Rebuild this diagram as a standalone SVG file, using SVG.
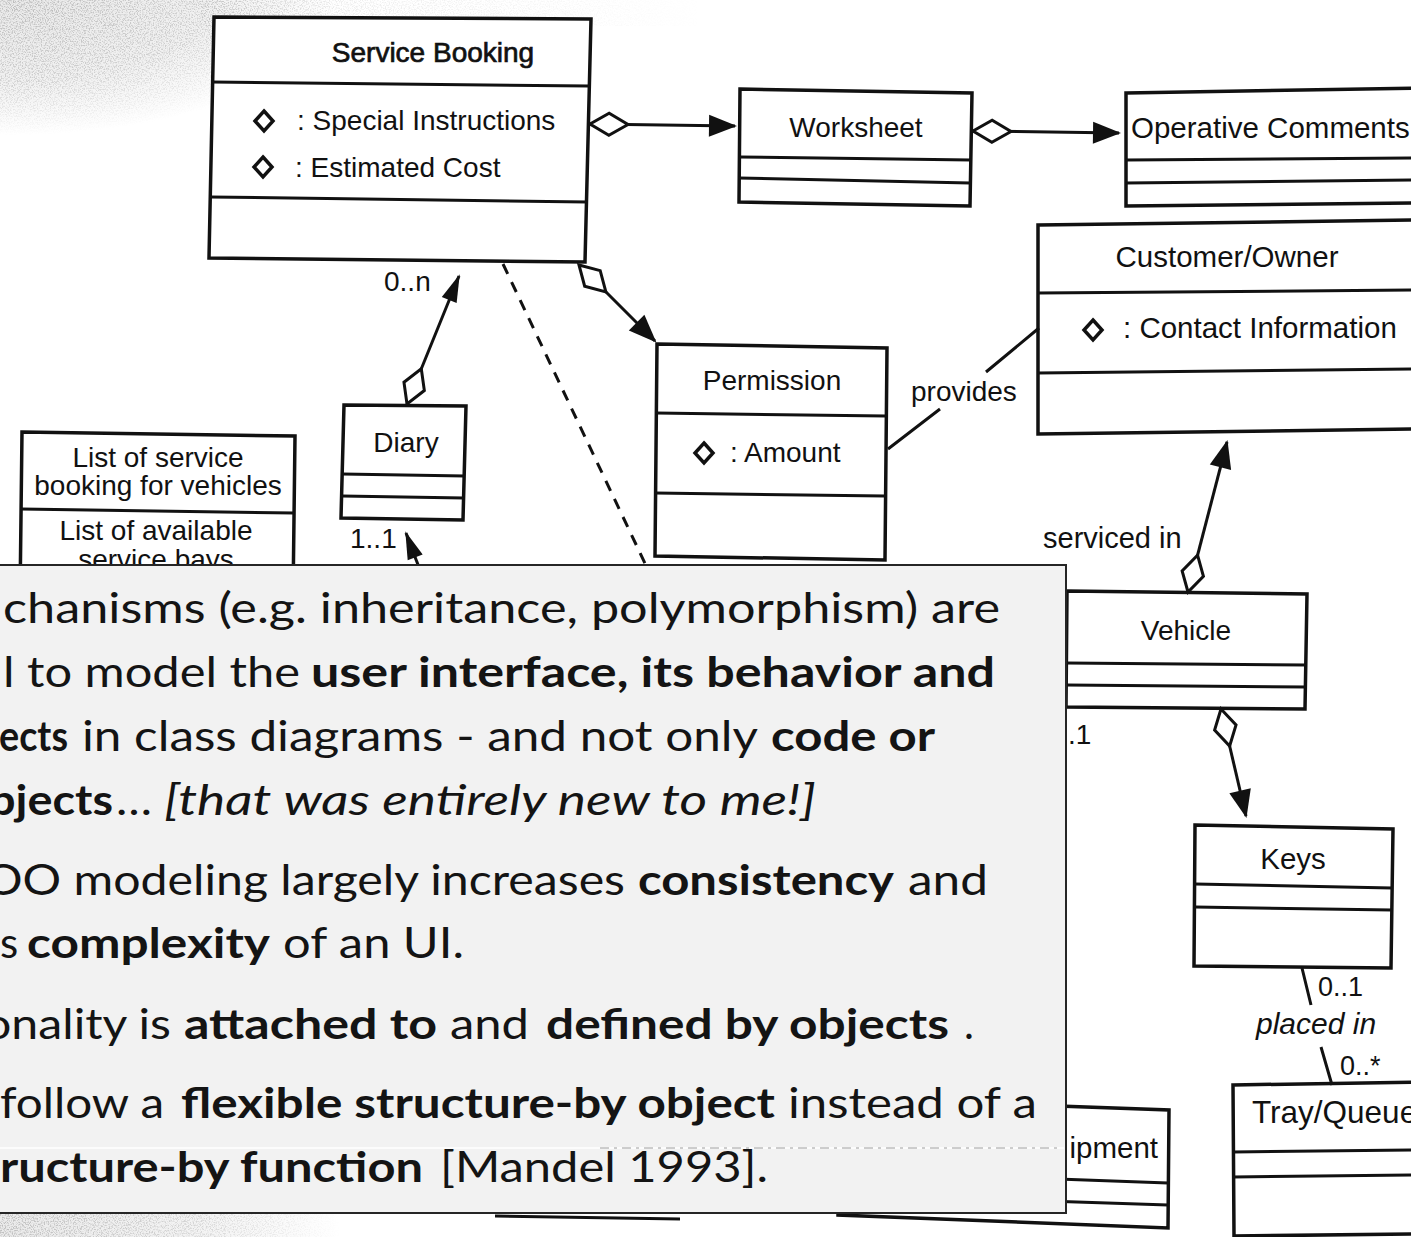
<svg xmlns="http://www.w3.org/2000/svg" xmlns:xlink="http://www.w3.org/1999/xlink" width="1411" height="1237" viewBox="0 0 1411 1237">
  <style>
    .box { fill: #fff; stroke: #111; stroke-width: 3.5; stroke-linejoin: miter; }
    .sep { fill: none; stroke: #111; stroke-width: 3; }
    .t { font-family: "Liberation Sans", Arial, Helvetica, sans-serif; font-size: 28px; fill: #111; }
    .tr { font-size: 29.5px; }
    .mid { text-anchor: middle; }
    .end { text-anchor: end; }
    .it { font-style: italic; }
    .assoc { fill: none; stroke: #111; stroke-width: 3; }
    .dashed { stroke-dasharray: 11 9; }
    .note { fill: #f2f2f2; stroke: #262626; stroke-width: 2; }
    .n { font-family: Lato, "Open Sans", "Noto Sans", sans-serif; font-size: 42px; fill: #141414; }
    .b { font-weight: 700; }
    .i { font-style: italic; }
  </style>
  <defs>
    <!-- aggregation diamond at the whole end -->
    <marker id="diamond" markerUnits="userSpaceOnUse" markerWidth="44" markerHeight="28" viewBox="-3 -14 44 28" refX="0" refY="0" orient="auto" overflow="visible">
      <path d="M0,0 L19,-11 L38,0 L19,11 Z" fill="#fff" stroke="#111" stroke-width="3"/>
    </marker>
    <!-- navigability arrowheads -->
    <marker id="arrow" markerUnits="userSpaceOnUse" markerWidth="30" markerHeight="26" viewBox="0 -13 30 26" refX="26" refY="0" orient="auto" overflow="visible">
      <path d="M0,-11 L28,0 L0,11 Z" fill="#111"/>
    </marker>
    <marker id="arrowN" markerUnits="userSpaceOnUse" markerWidth="30" markerHeight="20" viewBox="0 -10 30 20" refX="26" refY="0" orient="auto" overflow="visible">
      <path d="M0,-8 L28,0 L0,8 Z" fill="#111"/>
    </marker>
    <!-- attribute bullet -->
    <path id="bullet" d="M0,-10 L9,0 L0,10 L-9,0 Z" fill="#fff" stroke="#111" stroke-width="3.5"/>
    <!-- halftone paper grain -->
    <filter id="grain" filterUnits="userSpaceOnUse" x="0" y="0" width="1411" height="1237">
      <feTurbulence type="fractalNoise" baseFrequency="0.75" numOctaves="2" seed="7" result="noise"/>
      <feColorMatrix in="noise" type="matrix" values="0 0 0 0 0.45  0 0 0 0 0.45  0 0 0 0 0.45  4 0 0 0 -1.8" result="dots"/>
      <feComposite in="dots" in2="SourceGraphic" operator="in"/>
    </filter>
    <radialGradient id="shadeTL" gradientUnits="userSpaceOnUse" cx="0" cy="0" r="300" gradientTransform="translate(10,0) scale(1.1,0.45)">
      <stop offset="0" stop-color="#000" stop-opacity="0.85"/>
      <stop offset="0.6" stop-color="#000" stop-opacity="0.55"/>
      <stop offset="1" stop-color="#000" stop-opacity="0"/>
    </radialGradient>
    <linearGradient id="shadeTop" x1="0" y1="0" x2="1" y2="0">
      <stop offset="0" stop-color="#000" stop-opacity="0.35"/>
      <stop offset="1" stop-color="#000" stop-opacity="0"/>
    </linearGradient>
    <linearGradient id="shadeBL" x1="0" y1="0" x2="1" y2="0">
      <stop offset="0" stop-color="#000" stop-opacity="0.8"/>
      <stop offset="0.6" stop-color="#000" stop-opacity="0.45"/>
      <stop offset="1" stop-color="#000" stop-opacity="0"/>
    </linearGradient>
  </defs>

  <rect x="0" y="0" width="1411" height="1237" fill="#fff"/>

  <!-- scanned paper grain -->
  <g id="grain-bg">
    <g opacity="0.1">
      <rect x="0" y="0" width="400" height="150" fill="url(#shadeTL)"/>
      <rect x="0" y="1213" width="340" height="24" fill="url(#shadeBL)"/>
    </g>
    <g filter="url(#grain)">
      <rect x="0" y="0" width="400" height="150" fill="url(#shadeTL)"/>
      <rect x="200" y="0" width="500" height="26" fill="url(#shadeTop)"/>
      <rect x="0" y="1213" width="340" height="24" fill="url(#shadeBL)"/>
    </g>
  </g>

  <!-- classes -->
  <g id="service-booking">
    <polygon class="box" points="214,17 591,19 585,262 209,258"/>
    <polyline class="sep" points="212,82 589,86"/>
    <polyline class="sep" points="210,197 587,202"/>
    <text class="t mid" x="433" y="62" stroke="#111" stroke-width="0.7">Service Booking</text>
    <use xlink:href="#bullet" x="264" y="121"/>
    <text class="t" x="297" y="130">: Special Instructions</text>
    <use xlink:href="#bullet" x="263" y="167"/>
    <text class="t" x="295" y="177">: Estimated Cost</text>
  </g>

  <g id="worksheet">
    <polygon class="box" points="740,89 972,93 970,206 739,202"/>
    <polyline class="sep" points="740,157 971,160"/>
    <polyline class="sep" points="739,178 970,183"/>
    <text class="t mid" x="856" y="137">Worksheet</text>
  </g>

  <g id="operative-comments">
    <polygon class="box" points="1126,93 1420,88 1420,203 1126,206"/>
    <polyline class="sep" points="1126,160 1420,158"/>
    <polyline class="sep" points="1126,183 1420,180"/>
    <text class="t tr" x="1131" y="138">Operative Comments</text>
  </g>

  <g id="customer-owner">
    <polygon class="box" points="1038,225 1420,220 1420,429 1038,434"/>
    <polyline class="sep" points="1038,293 1420,290"/>
    <polyline class="sep" points="1038,373 1420,369"/>
    <text class="t tr mid" x="1227" y="267">Customer/Owner</text>
    <use xlink:href="#bullet" x="1093" y="330"/>
    <text class="t tr" x="1123" y="338">: Contact Information</text>
  </g>

  <g id="permission">
    <polygon class="box" points="657,344 887,348 885,560 655,556"/>
    <polyline class="sep" points="656,413 886,416"/>
    <polyline class="sep" points="655,493 885,496"/>
    <text class="t mid" x="772" y="390">Permission</text>
    <use xlink:href="#bullet" x="704" y="453"/>
    <text class="t" x="730" y="462">: Amount</text>
  </g>

  <g id="diary">
    <polygon class="box" points="344,405 466,406 463,520 341,518"/>
    <polyline class="sep" points="342,474 465,476"/>
    <polyline class="sep" points="342,496 464,498"/>
    <text class="t mid" x="406" y="452">Diary</text>
  </g>

  <g id="booking-lists">
    <polygon class="box" points="22,432 295,436 293,600 20,600"/>
    <polyline class="sep" points="21,509 294,513"/>
    <text class="t mid" x="158" y="467">List of service</text>
    <text class="t mid" x="158" y="495">booking for vehicles</text>
    <text class="t mid" x="156" y="540">List of available</text>
    <text class="t mid" x="156" y="569">service bays</text>
  </g>

  <g id="vehicle">
    <polygon class="box" points="1067,591 1307,594 1305,709 1066,707"/>
    <polyline class="sep" points="1066,663 1306,665"/>
    <polyline class="sep" points="1066,685 1306,687"/>
    <text class="t mid" x="1186" y="640">Vehicle</text>
  </g>

  <g id="keys">
    <polygon class="box" points="1195,825 1393,829 1391,968 1194,966"/>
    <polyline class="sep" points="1195,884 1392,888"/>
    <polyline class="sep" points="1195,907 1392,910"/>
    <text class="t tr mid" x="1293" y="869">Keys</text>
  </g>

  <g id="tray-queue">
    <polygon class="box" points="1233,1085 1420,1082 1420,1234 1234,1236"/>
    <polyline class="sep" points="1233,1152 1420,1150"/>
    <polyline class="sep" points="1233,1177 1420,1175"/>
    <text class="t" x="1252" y="1123" style="font-size:31.5px">Tray/Queue</text>
  </g>

  <g id="equipment">
    <polygon class="box" points="838,1098 1169,1110 1168,1228 838,1215"/>
    <polyline class="sep" points="838,1171 1168,1183"/>
    <polyline class="sep" points="838,1194 1168,1205"/>
    <text class="t end" x="1158" y="1158" style="font-size:29.5px">ipment</text>
  </g>

  <g id="lower-box">
    <polyline class="sep" points="495,1216 680,1219" stroke-width="3.5"/>
  </g>

  <!-- associations -->
  <g id="connectors">
    <path class="assoc" d="M590,124 L735,126" marker-start="url(#diamond)" marker-end="url(#arrow)"/>
    <path class="assoc" d="M973,131 L1119,133" marker-start="url(#diamond)" marker-end="url(#arrow)"/>
    <path class="assoc" d="M579,265 L655,341" marker-start="url(#diamond)" marker-end="url(#arrow)"/>
    <path class="assoc" d="M407,404 L459,276" marker-start="url(#diamond)" marker-end="url(#arrowN)"/>
    <path class="assoc" d="M426,586 L406,533" marker-end="url(#arrowN)"/>
    <path class="assoc dashed" d="M503,264 L660,595"/>
    <path class="assoc" d="M888,449 L940,409 M986,372 L1039,328"/>
    <path class="assoc" d="M1188,592 L1227,442" marker-start="url(#diamond)" marker-end="url(#arrow)"/>
    <path class="assoc" d="M1221,709 L1246,816" marker-start="url(#diamond)" marker-end="url(#arrow)"/>
    <path class="assoc" d="M1302,968 L1311,1005 M1321,1047 L1332,1085"/>

    <text class="t" x="384" y="291">0..n</text>
    <text class="t" x="350" y="548">1..1</text>
    <text class="t" x="911" y="401">provides</text>
    <text class="t" x="1043" y="548" style="font-size:29px">serviced in</text>
    <text class="t" x="1068" y="744">.1</text>
    <text class="t" x="1318" y="996" style="font-size:27px">0..1</text>
    <text class="t it" x="1256" y="1034" style="font-size:30px">placed in</text>
    <text class="t" x="1340" y="1075" style="font-size:27px">0..*</text>
  </g>

  <!-- callout text box laid over the diagram -->
  <g id="callout">
    <rect class="note" x="-10" y="565" width="1076" height="648"/>
    <line x1="0" y1="1148" x2="1064" y2="1148" stroke="#fff" stroke-width="1.5"/>
    <line x1="600" y1="1148" x2="1062" y2="1148" stroke="#777" stroke-width="1" stroke-dasharray="9 5 3 5" opacity="0.7"/>

    <text class="n" x="3" y="623" textLength="997" lengthAdjust="spacingAndGlyphs">chanisms (e.g. inheritance, polymorphism) are</text>

    <text class="n" x="3" y="687" textLength="297" lengthAdjust="spacingAndGlyphs">l to model the</text>
    <text class="n b" x="311" y="687" textLength="684" lengthAdjust="spacingAndGlyphs">user interface, its behavior and</text>

    <text class="n b" x="-1" y="751" textLength="69" lengthAdjust="spacingAndGlyphs">ects</text>
    <text class="n" x="82" y="751" textLength="676" lengthAdjust="spacingAndGlyphs">in class diagrams - and not only</text>
    <text class="n b" x="771" y="751" textLength="164" lengthAdjust="spacingAndGlyphs">code or</text>

    <text class="n b" x="-11" y="815" textLength="124" lengthAdjust="spacingAndGlyphs">bjects</text>
    <text class="n" x="116" y="815" textLength="36" lengthAdjust="spacingAndGlyphs">…</text>
    <text class="n i" x="164" y="815" textLength="652" lengthAdjust="spacingAndGlyphs">[that was entirely new to me!]</text>

    <text class="n" x="-16" y="895" textLength="641" lengthAdjust="spacingAndGlyphs">OO modeling largely increases</text>
    <text class="n b" x="638" y="895" textLength="256" lengthAdjust="spacingAndGlyphs">consistency</text>
    <text class="n" x="908" y="895" textLength="80" lengthAdjust="spacingAndGlyphs">and</text>

    <text class="n" x="0" y="958">s</text>
    <text class="n b" x="27" y="958" textLength="243" lengthAdjust="spacingAndGlyphs">complexity</text>
    <text class="n" x="283" y="958" textLength="181" lengthAdjust="spacingAndGlyphs">of an UI.</text>

    <text class="n" x="-16" y="1039" textLength="187" lengthAdjust="spacingAndGlyphs">onality is</text>
    <text class="n b" x="184" y="1039" textLength="253" lengthAdjust="spacingAndGlyphs">attached to</text>
    <text class="n" x="450" y="1039" textLength="79" lengthAdjust="spacingAndGlyphs">and</text>
    <text class="n b" x="546" y="1039" textLength="403" lengthAdjust="spacingAndGlyphs">defined by objects</text>
    <text class="n" x="964" y="1039">.</text>

    <text class="n" x="0" y="1118" textLength="164" lengthAdjust="spacingAndGlyphs">follow a</text>
    <text class="n b" x="181" y="1118" textLength="594" lengthAdjust="spacingAndGlyphs">flexible structure-by object</text>
    <text class="n" x="788" y="1118" textLength="249" lengthAdjust="spacingAndGlyphs">instead of a</text>

    <text class="n b" x="0" y="1182" textLength="423" lengthAdjust="spacingAndGlyphs">ructure-by function</text>
    <text class="n" x="440" y="1182" textLength="328" lengthAdjust="spacingAndGlyphs">[Mandel 1993].</text>
  </g>
</svg>
